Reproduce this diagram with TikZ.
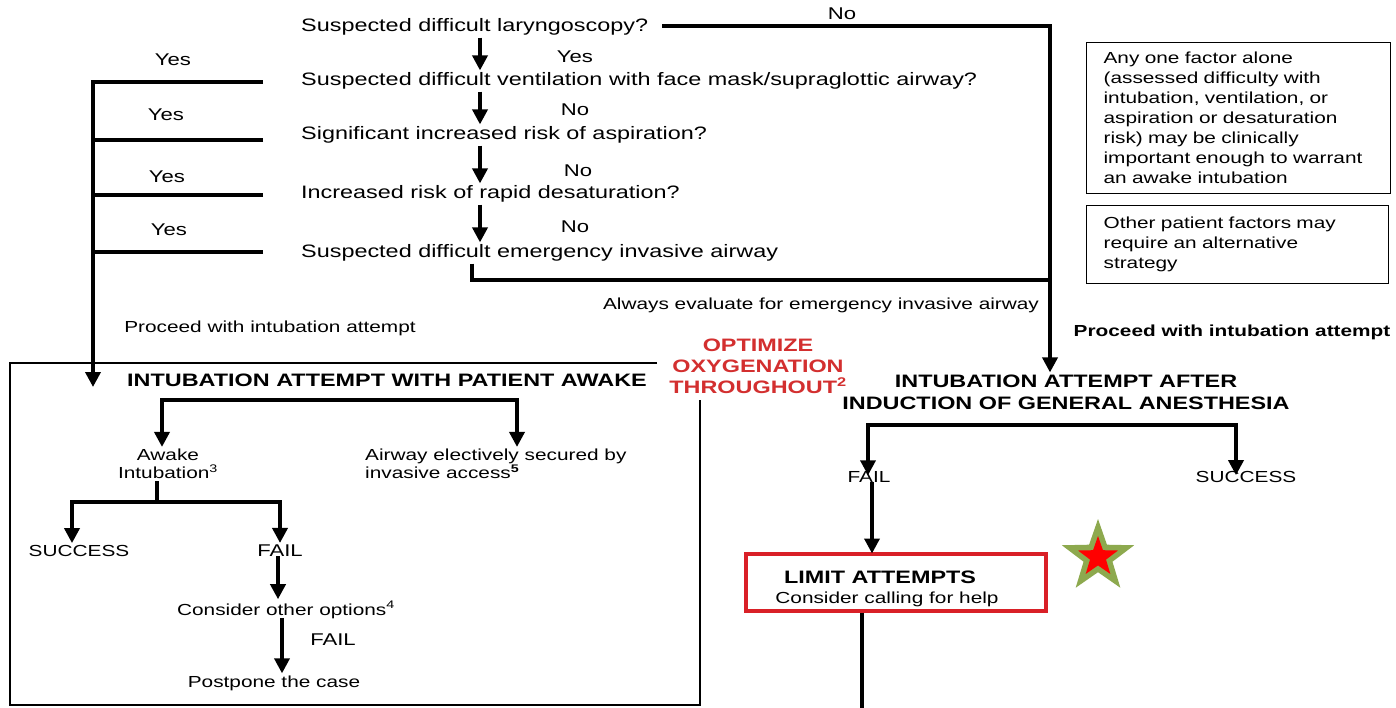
\documentclass[tikz,border=0pt]{standalone}
\usepackage{fontspec}
\setmainfont[FakeStretch=1.3]{Liberation Sans}
\usetikzlibrary{arrows.meta,shapes.geometric,calc}
\definecolor{boxred}{HTML}{D92027}
\definecolor{optred}{HTML}{D32F2F}
\definecolor{stargreen}{HTML}{8DA94E}
\definecolor{starred}{HTML}{FF0000}
\begin{document}
\begin{tikzpicture}[x=1pt,y=-1pt,
  txt/.style={font=\fontsize{16}{18}\selectfont, inner sep=2pt},
  txtq/.style={font=\fontsize{18}{20}\selectfont, inner sep=2pt},
  txtl/.style={font=\fontsize{17}{20}\selectfont, inner sep=2pt},
  txtb/.style={font=\fontsize{18}{22}\selectfont\bfseries, inner sep=2pt},
  ln/.style={line width=3.6pt},
  arr/.style={ln,-{Triangle[width=15pt,length=15pt]}},
  arr2/.style={ln,{Triangle[width=15pt,length=15pt]}-{Triangle[width=15pt,length=15pt]}},
  thinln/.style={line width=1.2pt},
  sidebox/.style={draw, line width=1.2pt, font=\fontsize{16}{20}\selectfont, align=left, inner xsep=17pt, inner ysep=0pt, anchor=north west}
]
\useasboundingbox (0,0) rectangle (1396,708);
\fill[white] (0,0) rectangle (1396,708);

% questions
\node[txtq,anchor=west] (q1) at (299,27) {Suspected difficult laryngoscopy?};
\node[txtq,anchor=west] (q2) at (299,81) {Suspected difficult ventilation with face mask/supraglottic airway?};
\node[txtq,anchor=west] (q3) at (299,135) {Significant increased risk of aspiration?};
\node[txtq,anchor=west] (q4) at (299,194) {Increased risk of rapid desaturation?};
\node[txtq,anchor=west] (q5) at (299,253) {Suspected difficult emergency invasive airway};

\coordinate (ax) at (480,0);
\draw[arr] (q1.south -| ax) -- (q2.north -| ax);
\draw[arr] (q2.south -| ax) -- (q3.north -| ax);
\draw[arr] (q3.south -| ax) -- (q4.north -| ax);
\draw[arr] (q4.south -| ax) -- (q5.north -| ax);

\node[txtl] (lno1) at (842,14) {No};
\node[txtl] (lyes1) at (575,57) {Yes};
\node[txtl] (lno2) at (575,110) {No};
\node[txtl] (lno3) at (578,171) {No};
\node[txtl] (lno4) at (575,227) {No};

% right heading
\node[txtb,align=center] (ia2) at (1066,392) {INTUBATION ATTEMPT AFTER\\INDUCTION OF GENERAL ANESTHESIA};

\coordinate (c1) at (1050,26);
\draw[arr] ([xshift=12pt]q1.east |- c1) -- (c1) -- (c1 |- ia2.north);
\coordinate (jx) at (472,0);
\coordinate (c2) at (472,280);
\draw[ln] (q5.south -| jx) -- (c2) -- ([xshift=1.8pt]c1 |- c2);

\node[txt] (always) at (821,305) {Always evaluate for emergency invasive airway};

% left spine
\node[txtl] (y1) at (173,60) {Yes};
\node[txtl] (y2) at (166,115) {Yes};
\node[txtl] (y3) at (167,177) {Yes};
\node[txtl] (y4) at (169,230) {Yes};
\coordinate (sp1) at (93,82);
\coordinate (spEnd) at (93,387);
\draw[arr] ([xshift=-36pt]q2.west |- sp1) -- (sp1) -- (spEnd);
\draw[ln] ([xshift=-36pt]q3.west |- 0,140) -- (sp1 |- 0,140);
\draw[ln] ([xshift=-36pt]q4.west |- 0,195) -- (sp1 |- 0,195);
\draw[ln] ([xshift=-36pt]q5.west |- 0,252) -- (sp1 |- 0,252);

\node[txt] (proc1) at (270,328) {Proceed with intubation attempt};
\node[txtb,font=\fontsize{16}{20}\selectfont\bfseries] (proc2) at (1232,332) {Proceed with intubation attempt};

% left box outline
\draw[thinln] (657,363) -- (10,363) -- (10,705) -- (700,705) -- (700,400);

\node[txtb,align=center,text=optred,font=\fontsize{18}{21}\selectfont\bfseries] (opt) at (758,366) {OPTIMIZE\\OXYGENATION\\THROUGHOUT\textsuperscript{2}};

\node[txtb] (ia1) at (387,380) {INTUBATION ATTEMPT WITH PATIENT AWAKE};

\node[txt,align=center] (awake) at (168,464) {Awake\\Intubation\textsuperscript{\fontsize{11}{11}\selectfont 3}};
\node[txt,align=left,anchor=west] (airway) at (363,464) {Airway electively secured by\\invasive access\textsuperscript{\fontsize{11}{11}\selectfont\bfseries 5}};

\coordinate (ba1) at (162,400);
\coordinate (ba2) at (517,400);
\draw[arr2] (ba1 |- awake.north) -- (ba1) -- (ba2) -- (ba2 |- airway.north);

\node[txt] (succ1) at (79,551) {SUCCESS};
\node[txtl] (fail1) at (280,551) {FAIL};
\coordinate (st) at (157,502);
\coordinate (sa1) at (72,502);
\coordinate (sa2) at (280,502);
\draw[ln] (awake.south -| st) -- (st);
\draw[arr2] (sa1 |- succ1.north) -- (sa1) -- (sa2) -- (sa2 |- fail1.north);

\node[txt] (other) at (286,610) {Consider other options\textsuperscript{\fontsize{11}{11}\selectfont 4}};
\coordinate (oa) at (278,0);
\draw[arr] ([yshift=3pt]fail1.south -| oa) -- (other.north -| oa);
\node[txt] (post) at (274,683) {Postpone the case};
\coordinate (pa) at (282,0);
\draw[arr] ([yshift=3pt]other.south -| pa) -- (post.north -| pa);
\node[txtl] (fail3) at (333,640) {FAIL};

% right branch
\node[txt] (fail2) at (869,477) {FAIL};
\node[txt] (succ2) at (1246,477) {SUCCESS};
\coordinate (rb1) at (868,425);
\coordinate (rb2) at (1236,425);
\draw[arr2] ([yshift=-6pt]rb1 |- fail2.north) -- (rb1) -- (rb2) -- ([yshift=-6pt]rb2 |- succ2.north);

\node[draw=boxred, line width=4pt, minimum width=300pt, minimum height=57pt, inner sep=0] (lim) at (896,582) {};
\node[txtb] (limt) at (880,577) {LIMIT ATTEMPTS};
\node[txt] (limc) at (887,599) {Consider calling for help};
\coordinate (la) at (872,0);
\draw[arr] ([yshift=3pt]fail2.south -| la) -- ([yshift=-2pt]lim.north -| la);
\coordinate (lb) at (862,708);
\draw[ln] (lim.south -| lb) -- (lb);

\node[star, star points=5, star point ratio=2.5, minimum size=76pt, inner sep=0, fill=stargreen] (star1) at (1098,557) {};
\node[star, star points=5, star point ratio=2.5, minimum size=42pt, inner sep=0, fill=starred] (star2) at (star1.center) {};

% side boxes
\node[sidebox, minimum width=304pt, minimum height=151pt, text width=270pt] (sb1) at (1086,42) {Any one factor alone\\(assessed difficulty with\\intubation, ventilation, or\\aspiration or desaturation\\risk) may be clinically\\important enough to warrant\\an awake intubation};
\node[sidebox, minimum width=302pt, minimum height=78pt, text width=268pt] (sb2) at (1086,205) {Other patient factors may\\require an alternative\\strategy};
\end{tikzpicture}
\end{document}
